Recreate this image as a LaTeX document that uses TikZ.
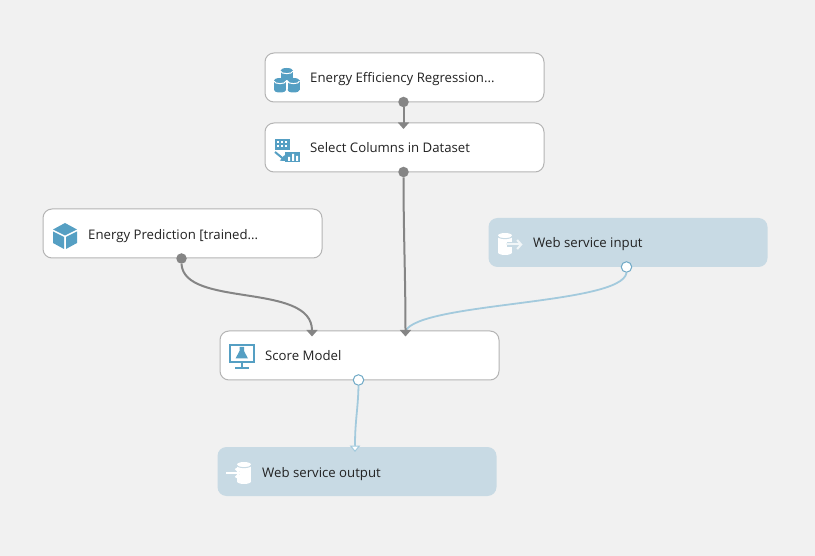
\documentclass[tikz,border=0pt]{standalone}
\usepackage{fontspec}
\setmainfont{Open Sans}
\usetikzlibrary{arrows.meta,positioning}
\definecolor{canvasbg}{HTML}{F1F1F1}
\definecolor{edgegray}{HTML}{B4B4B4}
\definecolor{wiregray}{HTML}{858585}
\definecolor{wireblue}{HTML}{A3CADD}
\definecolor{portblue}{HTML}{6FA9C6}
\definecolor{webfill}{HTML}{C8DAE4}
\definecolor{iconblue}{HTML}{559FC3}
\definecolor{inktext}{HTML}{222222}
\tikzset{
  modulebox/.style={draw=edgegray,fill=white,line width=1pt,rounded corners=9pt,minimum width=279pt,minimum height=49pt,inner sep=0pt},
  webbox/.style={fill=webfill,rounded corners=9pt,minimum width=279pt,minimum height=49pt,inner sep=0pt},
  modtext/.style={anchor=west,inner sep=0pt,text height=10pt,text depth=3pt,text=inktext,font=\fontsize{13.2}{16}\selectfont},
  darkport/.style={circle,fill=wiregray,minimum size=10.5pt,inner sep=0pt},
  lightport/.style={circle,draw=portblue,fill=white,line width=1pt,minimum size=10.5pt,inner sep=0pt},
  darkwire/.style={draw=wiregray,line width=2pt,-{Triangle[width=11pt,length=6.5pt,fill=wiregray]}},
  lightwire/.style={draw=wireblue,line width=1.8pt},
  webarrow/.style={line width=2pt,-{Straight Barb[length=4pt,width=9pt]}},
}
% one drum of an icon: x, y of the top left corner, width, height, fill, lip colour
\newcommand{\drum}[6]{
  \fill[#5] (#1,#2+2.5) rectangle (#1+#3,#2+#4-2.5);
  \fill[#5] (#1+#3/2,#2+2.5) ellipse[x radius=#3/2,y radius=2.5];
  \fill[#5] (#1+#3/2,#2+#4-2.5) ellipse[x radius=#3/2,y radius=2.5];
  \draw[#6,line width=1pt] (#1,#2+3) .. controls (#1,#2+6.5) and (#1+#3,#2+6.5) .. (#1+#3,#2+3);
}
\begin{document}
\begin{tikzpicture}[x=1pt,y=-1pt]
  \useasboundingbox[fill=canvasbg] (0,0) rectangle (815,556);

  % modules
  \node[modulebox] (energy) at (404.5,77.5) {};
  \node[modulebox] (select) at (404.5,147.5) {};
  \node[modulebox] (predict) at (182.5,233.5) {};
  \node[modulebox] (score) at (359.5,355.5) {};
  \node[webbox] (webin) at (628,242.5) {};
  \node[webbox] (webout) at (357,471.5) {};

  \node[modtext] (energytext) at (310,79.5) {Energy Efficiency Regression...};
  \node[modtext] (selecttext) at (310,149.5) {Select Columns in Dataset};
  \node[modtext] (predicttext) at (88,236.5) {Energy Prediction [trained...};
  \node[modtext] (scoretext) at (265,357.5) {Score Model};
  \node[modtext] (webintext) at (533,244.5) {Web service input};
  \node[modtext] (webouttext) at (262,473.5) {Web service output};

  % ports
  \node[darkport] (energyout) at (403.5,102) {};
  \node[darkport] (selectout) at (403.5,172) {};
  \node[darkport] (predictout) at (181.5,258.5) {};
  \node[lightport] (scoreout) at (358.5,380) {};
  \node[lightport] (webinout) at (626.5,267) {};
  \coordinate (selectin) at (403.5,129);
  \coordinate (scorein1) at (312,336.5);
  \coordinate (scorein2) at (405.5,336.5);
  \coordinate (scorein3) at (405.5,331);
  \coordinate (weboutin) at (355,452);

  % connectors
  \draw[lightwire] (webinout.south) .. controls (622,305) and (420,302) .. (scorein3);
  \draw[darkwire] (energyout.south) -- (selectin);
  \draw[darkwire] (selectout.south) .. controls (403.5,230) and (405.5,280) .. (scorein2);
  \draw[darkwire] (predictout.south) .. controls (184,308) and (312,282) .. (scorein1);
  \draw[lightwire,-{Triangle[width=10.5pt,length=6.5pt,fill=white,line width=1pt]}] (scoreout.south) .. controls (358,410) and (355,420) .. (weboutin);

  % icon: three drums
  \drum{280.5}{68}{12.5}{13}{iconblue}{white}
  \draw[white,line width=1.2pt] (273.5,81) -- (300,81);
  \drum{274}{78}{12}{14.5}{iconblue}{white}
  \drum{287.5}{78}{12}{14.5}{iconblue}{white}

  % icon: columns
  \fill[iconblue] (275,139) rectangle (290,150);
  \foreach \ix in {278,282,286} \foreach \iy in {142,146} \fill[white] (\ix-1,\iy-1) rectangle (\ix+1,\iy+1);
  \draw[iconblue,line width=2pt,-{Triangle[width=7pt,length=5pt]}] (275,152) -- (286,161);
  \fill[iconblue] (285,152) rectangle (300,162);
  \fill[white] (288,157) rectangle (290,161) (292,154) rectangle (294,161) (296,156) rectangle (298,161);

  % icon: cube
  \fill[iconblue] (65,223) -- (77,229.5) -- (65,235.5) -- (53,229.5) -- cycle;
  \fill[iconblue] (53,231.5) -- (64,237) -- (64,249) -- (53,243) -- cycle;
  \fill[iconblue] (77,231.5) -- (66,237) -- (66,249) -- (77,243) -- cycle;

  % icon: monitor
  \draw[iconblue,line width=2pt] (230,345) rectangle (253.5,362);
  \fill[iconblue] (240.5,362) rectangle (243,367);
  \fill[iconblue] (235,367) rectangle (249,369);
  \fill[iconblue] (239.5,347) -- (244,347) -- (244,351) -- (248,358.5) -- (235.5,358.5) -- (239.5,351) -- cycle;

  % icons: web service
  \drum{498}{233}{14}{22}{white}{webfill}
  \draw[webfill,line width=4.5pt] (507,244.5) -- (520,244.5);
  \draw[webarrow,white!75!webfill] (506,244.5) -- (522.5,244.5);
  \drum{237}{462}{14}{22}{white}{webfill}
  \draw[webfill,line width=4.5pt] (236,473) -- (240,473);
  \draw[webarrow,white] (226,473) -- (241,473);
\end{tikzpicture}
\end{document}
